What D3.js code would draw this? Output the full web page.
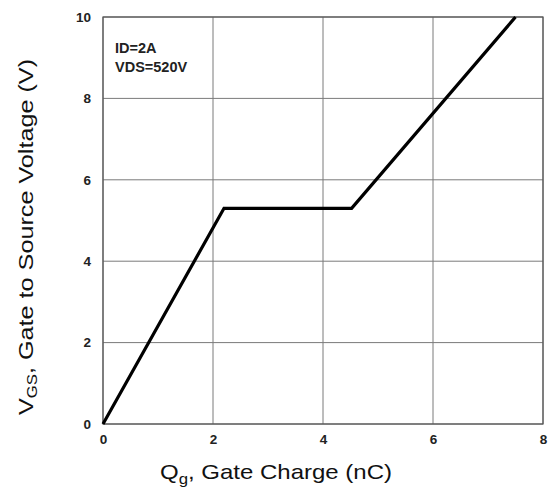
<!DOCTYPE html>
<html>
<head>
<meta charset="utf-8">
<script src="https://cdn.jsdelivr.net/npm/d3@7"></script>
<style>
  body { margin: 0; background: #fff; }
  text { font-family: Arial, "Liberation Sans", sans-serif; }
</style>
</head>
<body>
<svg id="chart" width="557" height="492"></svg>
<script>
// gate charge curve, Qg (nC) vs VGS (V)
const qg = [0, 2.2, 4.52, 7.5];
const vgs = [0, 5.3, 5.3, 10];
const xTicks = [0, 2, 4, 6, 8];
const yTicks = [0, 2, 4, 6, 8, 10];
const notes = ["ID=2A", "VDS=520V"];

const margin = {top: 17, right: 14, bottom: 68, left: 103};
const width = 557 - margin.left - margin.right,
      height = 492 - margin.top - margin.bottom;

const svg = d3.select("#chart");
const g = svg.append("g").attr("transform", `translate(${margin.left},${margin.top})`);

const x = d3.scaleLinear().domain([0, 8]).range([0, width]);
const y = d3.scaleLinear().domain([0, 10]).range([height, 0]);

// grid
g.selectAll(".vgrid").data(xTicks).join("line")
  .attr("x1", d => x(d)).attr("x2", d => x(d))
  .attr("y1", 0).attr("y2", height)
  .attr("stroke", "#7a7a7a").attr("stroke-width", 1);
g.selectAll(".hgrid").data(yTicks).join("line")
  .attr("y1", d => y(d)).attr("y2", d => y(d))
  .attr("x1", 0).attr("x2", width)
  .attr("stroke", "#7a7a7a").attr("stroke-width", 1);

// box
g.append("rect").attr("width", width).attr("height", height)
  .attr("fill", "none").attr("stroke", "#555").attr("stroke-width", 1.2);

// axes, labels only
const xAxis = d3.axisBottom(x).tickValues(xTicks).tickSize(0).tickPadding(10);
const yAxis = d3.axisLeft(y).tickValues(yTicks).tickSize(0).tickPadding(12);
const xa = g.append("g").attr("transform", `translate(0,${height})`).call(xAxis);
const ya = g.append("g").call(yAxis);
[xa, ya].forEach(a => {
  a.select(".domain").remove();
  a.selectAll("text").attr("font-size", 13.5).attr("font-weight", "bold")
    .attr("fill", "#222").attr("font-family", "Arial, 'Liberation Sans', sans-serif");
});

// curve
const line = d3.line().x((d, i) => x(qg[i])).y((d, i) => y(vgs[i]));
g.append("path").datum(qg).attr("d", line)
  .attr("fill", "none").attr("stroke", "#000").attr("stroke-width", 3.2)
  .attr("stroke-linejoin", "miter");

// conditions
g.selectAll(".note").data(notes).join("text")
  .attr("x", 12).attr("y", (d, i) => 36 + i * 19)
  .attr("font-size", 14.5).attr("font-weight", "bold").attr("fill", "#222")
  .text(d => d);

// axis titles
const xt = svg.append("text")
  .attr("transform", "translate(276,479) scale(1.2,1)")
  .attr("text-anchor", "middle").attr("font-size", 20).attr("fill", "#111");
xt.append("tspan").text("Q");
xt.append("tspan").attr("font-size", 14).attr("dy", 5).text("g");
xt.append("tspan").attr("dy", -5).text(", Gate Charge (nC)");

const yt = svg.append("text")
  .attr("transform", "translate(33,237) rotate(-90) scale(1.2,1)")
  .attr("text-anchor", "middle").attr("font-size", 21).attr("fill", "#111");
yt.append("tspan").text("V");
yt.append("tspan").attr("font-size", 14).attr("dy", 4).text("GS");
yt.append("tspan").attr("dy", -4).text(",  Gate to Source Voltage (V)");
</script>
</body>
</html>
